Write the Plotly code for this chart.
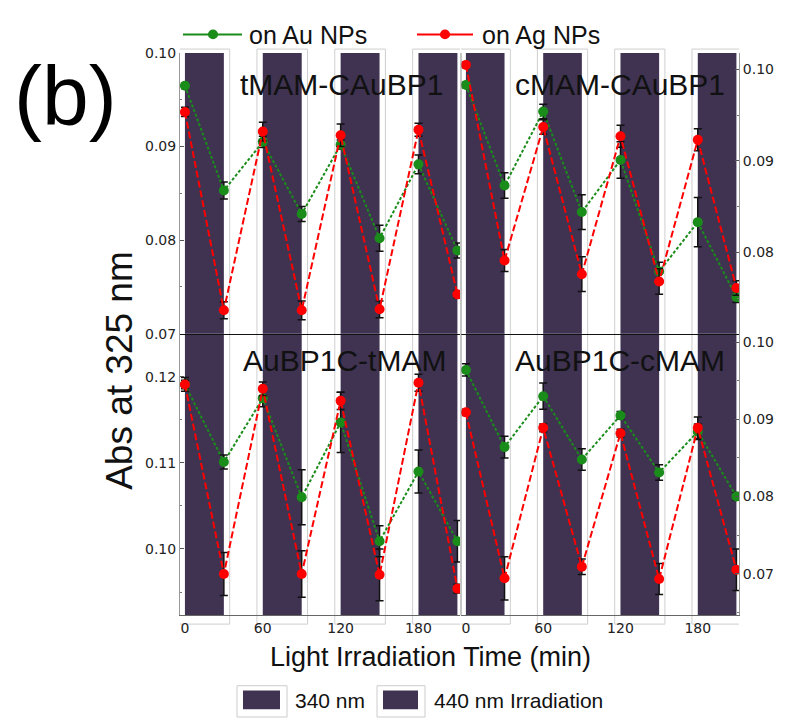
import plotly.graph_objects as go

# ---------------- data ----------------
time_min = [0, 30, 60, 90, 120, 150, 180, 210]
bar_start = [0, 60, 120, 180]
bar_end = [30, 90, 150, 210]

panel_titles = ["tMAM-CAuBP1", "cMAM-CAuBP1", "AuBP1C-tMAM", "AuBP1C-cMAM"]
series_names = ["on Au NPs", "on Ag NPs"]
legend_bars = ["340 nm", "440 nm Irradiation"]

tl_au = [0.0965, 0.0853, 0.0905, 0.0828, 0.0902, 0.0802, 0.0881, 0.0789]
tl_ag = [0.0937, 0.0725, 0.0916, 0.0725, 0.0912, 0.0726, 0.0918, 0.0742]
tl_au_err = [0.0003, 0.0009, 0.0006, 0.0008, 0.0005, 0.0014, 0.0010, 0.0008]
tl_ag_err = [0.0005, 0.0009, 0.0010, 0.0010, 0.0012, 0.0009, 0.0007, 0.0004]

tr_au = [0.0983, 0.0873, 0.0954, 0.0844, 0.0901, 0.0779, 0.0833, 0.0751]
tr_ag = [0.1005, 0.0791, 0.0937, 0.0776, 0.0927, 0.0768, 0.0923, 0.0761]
tr_au_err = [0.0003, 0.0014, 0.0008, 0.0019, 0.0020, 0.0010, 0.0027, 0.0006]
tr_ag_err = [0.0003, 0.0012, 0.0008, 0.0019, 0.0012, 0.0014, 0.0012, 0.0008]

bl_au = [0.1191, 0.1101, 0.1175, 0.1060, 0.1147, 0.1009, 0.1090, 0.1009]
bl_ag = [0.1191, 0.0971, 0.1186, 0.0971, 0.1172, 0.0970, 0.1193, 0.0954]
bl_au_err = [0.0005, 0.0008, 0.0010, 0.0032, 0.0035, 0.0018, 0.0025, 0.0024]
bl_ag_err = [0.0008, 0.0025, 0.0008, 0.0027, 0.0010, 0.0030, 0.0010, 0.0005]

br_au = [0.0964, 0.0864, 0.0930, 0.0848, 0.0905, 0.0831, 0.0884, 0.0800]
br_ag = [0.0909, 0.0694, 0.0889, 0.0709, 0.0882, 0.0693, 0.0889, 0.0705]
br_au_err = [0.0008, 0.0014, 0.0017, 0.0014, 0.0005, 0.0010, 0.0010, 0.0005]
br_ag_err = [0.0004, 0.0028, 0.0005, 0.0010, 0.0005, 0.0020, 0.0014, 0.0027]

x_ticks = [0, 60, 120, 180]
tl_yticks = [0.07, 0.08, 0.09, 0.10]
tr_yticks = [0.08, 0.09, 0.10]
bl_yticks = [0.10, 0.11, 0.12]
br_yticks = [0.07, 0.08, 0.09, 0.10]

# ---------------- styling ----------------
W, H = 788, 726
FONT = "Liberation Sans, Arial, sans-serif"
GREEN = "#1a8c1a"
RED = "#ff0000"
BAR = "#3f3351"
BOXLINE = "#cfcfcf"


def px(x):
    return x / W


def py(y):
    return 1 - y / H


XL = [px(180), px(460)]
XR = [px(461), px(739)]
YT = [py(333), py(46)]
YB = [py(621), py(333)]
XRANGE = [-3.8, 212]

panels = [
    ("x", "y", tl_au, tl_au_err, tl_ag, tl_ag_err),
    ("x2", "y2", tr_au, tr_au_err, tr_ag, tr_ag_err),
    ("x3", "y3", bl_au, bl_au_err, bl_ag, bl_ag_err),
    ("x4", "y4", br_au, br_au_err, br_ag, br_ag_err),
]

fig = go.Figure()
for xa, ya, au, au_e, ag, ag_e in panels:
    fig.add_trace(go.Scatter(
        x=time_min, y=au, xaxis=xa, yaxis=ya, mode="lines+markers",
        name=series_names[0], showlegend=False,
        line=dict(color=GREEN, width=2, dash="3px,2px"),
        marker=dict(color=GREEN, size=10),
        error_y=dict(type="data", array=au_e, color="#111111", thickness=1.5, width=4),
    ))
    fig.add_trace(go.Scatter(
        x=time_min, y=ag, xaxis=xa, yaxis=ya, mode="lines+markers",
        name=series_names[1], showlegend=False,
        line=dict(color=RED, width=2, dash="7px,3px"),
        marker=dict(color=RED, size=10),
        error_y=dict(type="data", array=ag_e, color="#111111", thickness=1.5, width=4),
    ))

shapes = []
# dark irradiation bars in each panel
for xa, ya, *_ in panels:
    for s, e in zip(bar_start, bar_end):
        shapes.append(dict(type="rect", xref=xa, yref=f"{ya} domain",
                           x0=s, x1=e, y0=0, y1=1, fillcolor=BAR,
                           line=dict(width=0), layer="below"))
# light outline boxes spanning both rows
for xa in ["x3", "x4"]:
    for s, e in zip(bar_start, bar_end):
        shapes.append(dict(type="rect", xref=xa, yref="paper",
                           x0=s - 4.5, x1=e + 4.5, y0=py(630), y1=py(42),
                           line=dict(color=BOXLINE, width=1), layer="below"))
# frame lines
shapes.append(dict(type="line", xref="paper", yref="paper", x0=px(461), x1=px(461),
                   y0=py(621), y1=py(46), line=dict(color="#8a8a8a", width=1)))

# top legend (manual)
leg_y = py(27)
for (x0, x1, xm, col) in [(183, 242, 213, GREEN), (417, 473, 445, RED)]:
    shapes.append(dict(type="line", xref="paper", yref="paper", x0=px(x0), x1=px(x1),
                       y0=leg_y, y1=leg_y, line=dict(color=col, width=2)))
    shapes.append(dict(type="circle", xref="paper", yref="paper",
                       x0=px(xm - 5), x1=px(xm + 5), y0=py(32), y1=py(22),
                       fillcolor=col, line=dict(color=col, width=0)))

# bottom legend boxes
for (ox0, ox1, ix0, ix1) in [(237, 287, 243, 280), (377, 425, 383, 418)]:
    shapes.append(dict(type="rect", xref="paper", yref="paper", x0=px(ox0), x1=px(ox1),
                       y0=py(725), y1=py(693), line=dict(color="#cccccc", width=1)))
    shapes.append(dict(type="rect", xref="paper", yref="paper", x0=px(ix0), x1=px(ix1),
                       y0=py(717), y1=py(698), fillcolor=BAR, line=dict(width=0)))

annotations = []
title_pos = [(341, 78), (620, 78), (344, 360), (620, 360)]
for t, (cx, cy) in zip(panel_titles, title_pos):
    annotations.append(dict(text=t, x=px(cx), y=py(cy), xref="paper", yref="paper",
                            showarrow=False, font=dict(family=FONT, size=30, color="#111"),
                            xanchor="center", yanchor="middle"))
annotations += [
    dict(text=series_names[0], x=px(247), y=py(28), xref="paper", yref="paper", showarrow=False,
         xanchor="left", yanchor="middle", font=dict(family=FONT, size=25, color="#111")),
    dict(text=series_names[1], x=px(480), y=py(28), xref="paper", yref="paper", showarrow=False,
         xanchor="left", yanchor="middle", font=dict(family=FONT, size=25, color="#111")),
    dict(text=legend_bars[0], x=px(293), y=py(708), xref="paper", yref="paper", showarrow=False,
         xanchor="left", yanchor="middle", font=dict(family=FONT, size=21, color="#111")),
    dict(text=legend_bars[1], x=px(432), y=py(708), xref="paper", yref="paper", showarrow=False,
         xanchor="left", yanchor="middle", font=dict(family=FONT, size=21, color="#111")),
    dict(text="Light Irradiation Time (min)", x=px(430), y=py(664), xref="paper", yref="paper",
         showarrow=False, xanchor="center", yanchor="middle",
         font=dict(family=FONT, size=27, color="#111")),
    dict(text="Abs at 325 nm", x=px(120), y=py(371), xref="paper", yref="paper",
         showarrow=False, xanchor="center", yanchor="middle", textangle=-90,
         font=dict(family=FONT, size=37, color="#111")),
    dict(text="(b)", x=px(65), y=py(90), xref="paper", yref="paper", showarrow=False,
         xanchor="center", yanchor="middle", font=dict(family=FONT, size=84, color="#000")),
]

tickfont = dict(family="DejaVu Sans, sans-serif", size=14, color="#222")

common_x = dict(range=XRANGE, showgrid=False, zeroline=False, ticks="", fixedrange=True)
fig.update_layout(
    width=W, height=H, margin=dict(l=0, r=0, t=0, b=0),
    paper_bgcolor="white", plot_bgcolor="rgba(0,0,0,0)",
    showlegend=False, shapes=shapes, annotations=annotations,
    xaxis=dict(domain=XL, anchor="y", showticklabels=False, showline=True,
               linecolor="#111", linewidth=1, **common_x),
    xaxis2=dict(domain=XR, anchor="y2", showticklabels=False, showline=True,
                linecolor="#111", linewidth=1, **common_x),
    xaxis3=dict(domain=XL, anchor="y3", tickvals=x_ticks, tickfont=tickfont,
                showline=True, linecolor="#666", linewidth=1, **common_x),
    xaxis4=dict(domain=XR, anchor="y4", tickvals=x_ticks, tickfont=tickfont,
                showline=True, linecolor="#666", linewidth=1, **common_x),
    yaxis=dict(domain=YT, anchor="x", range=[0.07, 0.10], tickvals=tl_yticks,
               tickformat=".2f", side="left"),
    yaxis2=dict(domain=YT, anchor="x2", range=[0.0711, 0.1018], tickvals=tr_yticks,
                tickformat=".2f", side="right"),
    yaxis3=dict(domain=YB, anchor="x3", range=[0.0923, 0.125], tickvals=bl_yticks,
                tickformat=".2f", side="left"),
    yaxis4=dict(domain=YB, anchor="x4", range=[0.0646, 0.1011], tickvals=br_yticks,
                tickformat=".2f", side="right"),
)
for ax in ["yaxis", "yaxis2", "yaxis3", "yaxis4"]:
    fig.layout[ax].update(showgrid=False, zeroline=False, showline=True, linecolor="#9a9a9a",
                          linewidth=1, ticks="inside", ticklen=4, tickcolor="#555",
                          tickfont=tickfont, fixedrange=True,
                          minor=dict(ticks="inside", ticklen=2, tickcolor="#777", nticks=3))

fig.write_html("out.html")
